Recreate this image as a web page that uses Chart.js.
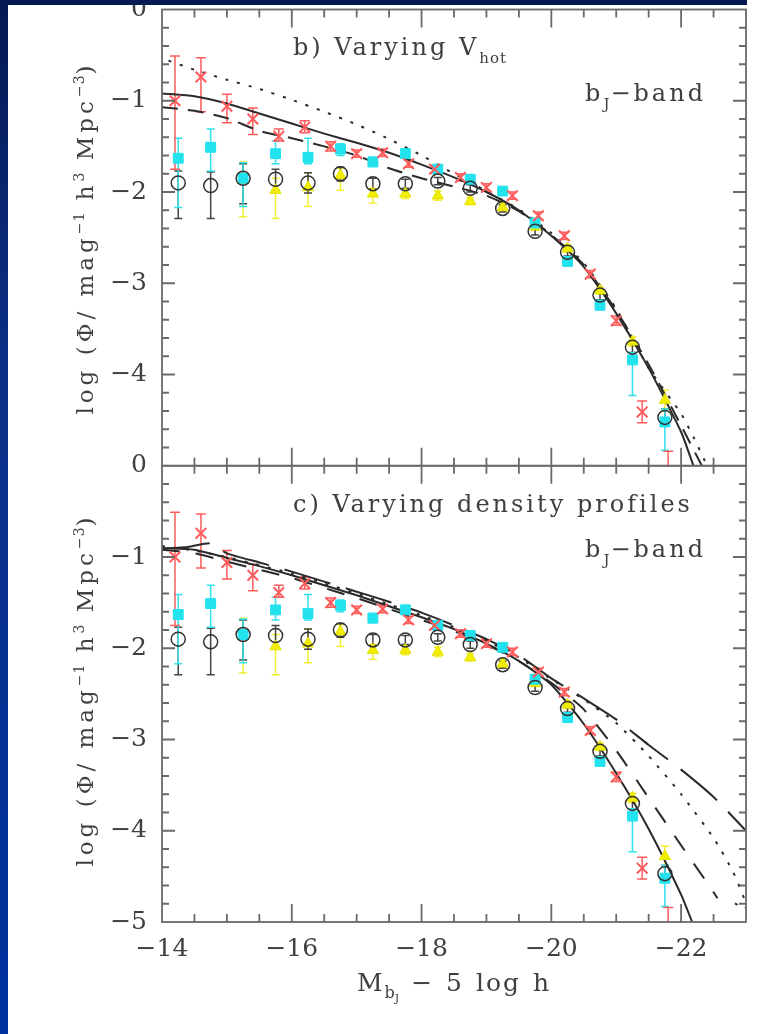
<!DOCTYPE html>
<html>
<head>
<meta charset="utf-8">
<script src="https://cdn.jsdelivr.net/npm/chart.js@4.4.1/dist/chart.umd.min.js"></script>
<style>
  html, body { margin: 0; padding: 0; }
  body { width: 757px; height: 1034px; position: relative; overflow: hidden;
    background: linear-gradient(to bottom, #061a52 0%, #0b2f86 35%, #0033a0 100%); }
  #paper { position: absolute; left: 8px; top: 5px; right: 0; bottom: 0; background: #fff; }
  #cornerTR { position: absolute; left: 747px; top: 0; width: 10px; height: 5px; background: #fff; }
  #bandTop { position: absolute; left: 0; top: 0; width: 747px; height: 5px; background: #061a52; z-index: 3; }
  #chart { position: absolute; left: 0; top: 0; z-index: 1; }
  .txt { position: absolute; z-index: 2; font-family: 'DejaVu Serif'; font-size: 24px; line-height: 24px;
    letter-spacing: 3px; color: #404040; white-space: nowrap; }
  .sub { font-size: 15px; position: relative; top: 8px; letter-spacing: 1px; }
  .ytitle { position: absolute; z-index: 2; left: 86px; font-family: 'DejaVu Serif'; font-size: 23px;
    line-height: 30px; letter-spacing: 4px; color: #404040; white-space: nowrap;
    transform: translate(-50%, -50%) rotate(-90deg); }
  .sup { font-size: 14px; position: relative; top: -9px; letter-spacing: 1px; }
  .xtitle { position: absolute; z-index: 2; left: 357px; top: 970px; font-family: 'DejaVu Serif'; font-size: 25px;
    line-height: 25px; letter-spacing: 2px; word-spacing: 2px; color: #404040; white-space: nowrap; }
  .xsub { font-size: 16px; position: relative; top: 7px; letter-spacing: 0; }
  .xsubsub { font-size: 11px; position: relative; top: 4px; }
</style>
</head>
<body>
<div id="paper"></div>
<div id="cornerTR"></div>
<div id="bandTop"></div>
<canvas id="chart" width="757" height="1034"></canvas>

<div class="txt" style="left:293px; top:35px;">b) Varying V<span class="sub">hot</span></div>
<div class="txt" style="left:585px; top:81px;">b<span class="sub">J</span>−band</div>
<div class="txt" style="left:293px; top:492px;">c) Varying density profiles</div>
<div class="txt" style="left:585px; top:537px;">b<span class="sub">J</span>−band</div>
<div class="ytitle" style="top:238px;">log (Φ/ mag<span class="sup">−1</span> h<span class="sup">3</span> Mpc<span class="sup">−3</span>)</div>
<div class="ytitle" style="top:690px;">log (Φ/ mag<span class="sup">−1</span> h<span class="sup">3</span> Mpc<span class="sup">−3</span>)</div>
<div class="xtitle">M<span class="xsub">b<span class="xsubsub">J</span></span> − 5 log h</div>

<script>
// tick labels
const xTickVals = [-14, -16, -18, -20, -22];
const yTopTickVals = [0, -1, -2, -3, -4];
const yBotTickVals = [0, -1, -2, -3, -4, -5];

// red crosses
const magRed = [-14.2, -14.6, -15.0, -15.4, -15.8, -16.2, -16.6, -17.0, -17.4, -17.8,
                -18.2, -18.6, -19.0, -19.4, -19.8, -20.2, -20.6, -21.0, -21.4, -21.8];
const phiRed = [-1.00, -0.74, -1.06, -1.20, -1.39, -1.29, -1.50, -1.58, -1.57, -1.69,
                -1.75, -1.84, -1.95, -2.04, -2.26, -2.48, -2.90, -3.41, -4.41, -5.30];
const redHi  = [-0.51, -0.53, -0.93, -1.08, -1.31, -1.22, -1.45, -1.54, -1.53, -1.65,
                -1.71, -1.80, -1.91, -2.00, -2.22, -2.44, -2.86, -3.36, -4.29, -4.84];
const redLo  = [-1.75, -1.12, -1.24, -1.37, -1.44, -1.35, -1.55, -1.62, -1.61, -1.73,
                -1.79, -1.88, -1.99, -2.08, -2.30, -2.52, -2.94, -3.46, -4.53, -5.80];

// binned points (cyan squares, open circles)
const magBin = [-14.25, -14.75, -15.25, -15.75, -16.25, -16.75, -17.25, -17.75,
                -18.25, -18.75, -19.25, -19.75, -20.25, -20.75, -21.25, -21.75];
const phiCyan = [-1.63, -1.51, -1.85, -1.58, -1.62, -1.53, -1.67, -1.58,
                 -1.75, -1.86, -1.99, -2.34, -2.76, -3.24, -3.84, -4.52];
const cyanHi  = [-1.41, -1.31, -1.68, -1.44, -1.41, -1.47, -1.62, -1.53,
                 -1.71, -1.82, -1.95, -2.30, -2.71, -3.19, -3.76, -4.38];
const cyanLo  = [-2.17, -1.77, -2.16, -1.69, -1.69, -1.60, -1.72, -1.63,
                 -1.79, -1.90, -2.03, -2.38, -2.81, -3.29, -4.23, -4.83];
const phiCirc = [-1.90, -1.93, -1.85, -1.86, -1.90, -1.80, -1.91, -1.91,
                 -1.88, -1.96, -2.18, -2.43, -2.66, -3.13, -3.70, -4.47];
const circHi  = [-1.77, -1.78, -1.69, -1.75, -1.79, -1.73, -1.85, -1.86,
                 -1.84, -1.92, -2.14, -2.39, -2.62, -3.08, -3.64, -4.38];
const circLo  = [-2.29, -2.29, -2.13, -1.98, -2.01, -1.88, -1.97, -1.96,
                 -1.92, -2.00, -2.22, -2.47, -2.70, -3.18, -3.76, -4.56];

// yellow triangles
const magYel = [-15.25, -15.75, -16.25, -16.75, -17.25, -17.75, -18.25,
                -18.75, -19.25, -19.75, -20.25, -20.75, -21.25, -21.75];
const phiYel = [-1.87, -1.98, -1.95, -1.82, -2.02, -2.02, -2.04,
                -2.10, -2.17, -2.38, -2.62, -3.08, -3.64, -4.28];
const yelHi  = [-1.67, -1.85, -1.79, -1.74, -1.96, -1.97, -1.99,
                -2.06, -2.13, -2.34, -2.58, -3.04, -3.59, -4.17];
const yelLo  = [-2.27, -2.29, -2.16, -1.98, -2.12, -2.07, -2.09,
                -2.14, -2.21, -2.42, -2.66, -3.12, -3.69, -4.40];

// panel b model curves
const magSolidB = [-14.0, -14.5, -15.0, -15.5, -16.0, -16.5, -17.0, -17.5, -18.0,
                   -18.5, -19.0, -19.5, -20.0, -20.5, -21.0, -21.5, -22.0, -22.19];
const phiSolidB = [-0.92, -0.95, -1.03, -1.14, -1.25, -1.36, -1.46, -1.57, -1.70,
                   -1.84, -2.00, -2.20, -2.48, -2.82, -3.33, -3.93, -4.63, -5.00];
const magDashB = [-14.0, -14.5, -15.0, -15.5, -16.0, -16.5, -17.0, -17.5, -18.0,
                  -18.5, -19.0, -19.5, -20.0, -20.5, -21.0, -21.5, -22.0, -22.32];
const phiDashB = [-1.07, -1.11, -1.19, -1.33, -1.41, -1.50, -1.60, -1.74, -1.85,
                  -1.94, -2.04, -2.21, -2.47, -2.80, -3.30, -3.89, -4.56, -5.00];
const magDotB = [-14.1, -14.5, -15.0, -15.5, -16.0, -16.5, -17.0, -17.5, -18.0, -18.5,
                 -19.0, -19.5, -20.0, -20.5, -21.0, -21.5, -22.0, -22.2, -22.4];
const phiDotB = [-0.56, -0.66, -0.77, -0.87, -0.99, -1.12, -1.26, -1.42, -1.60, -1.80,
                 -1.99, -2.19, -2.45, -2.78, -3.28, -3.93, -4.43, -4.70, -5.00];

// panel c model curves
const magSolidC = [-14.0, -14.5, -15.0, -15.5, -16.0, -16.5, -17.0, -17.5, -18.0,
                   -18.5, -19.0, -19.5, -20.0, -20.5, -21.0, -21.5, -22.0, -22.17];
const phiSolidC = [-0.90, -0.92, -1.01, -1.10, -1.20, -1.31, -1.42, -1.54, -1.66,
                   -1.79, -1.95, -2.14, -2.40, -2.83, -3.37, -3.98, -4.70, -5.00];
const magShortC = [-14.0, -14.5, -15.0, -15.5, -16.0, -16.5, -17.0, -17.5, -18.0, -18.5,
                   -19.0, -19.5, -20.0, -20.5, -21.0, -21.5, -22.0, -22.45, -22.56];
const phiShortC = [-0.92, -0.96, -1.05, -1.14, -1.23, -1.34, -1.45, -1.57, -1.69, -1.81,
                   -1.96, -2.14, -2.38, -2.67, -3.12, -3.64, -4.16, -4.62, -4.74];
const magDotC = [-14.0, -14.5, -15.0, -15.5, -16.0, -16.5, -17.0, -17.5, -18.0, -18.5, -19.0,
                 -19.5, -20.0, -20.5, -21.0, -21.5, -22.0, -22.5, -22.8, -22.98, -23.0, -22.75];
const phiDotC = [-0.88, -0.93, -1.00, -1.09, -1.18, -1.29, -1.40, -1.52, -1.64, -1.77, -1.92,
                 -2.10, -2.34, -2.56, -2.82, -3.18, -3.60, -4.08, -4.45, -4.76, -4.86, -4.76];
const magLongC = [-14.0, -14.4, -14.75, -15.0, -15.5, -16.0, -16.5, -17.0, -17.5, -18.0,
                  -18.5, -19.0, -19.5, -20.0, -20.5, -21.0, -21.5, -22.0, -22.5, -23.0];
const phiLongC = [-0.91, -0.89, -0.85, -0.96, -1.06, -1.16, -1.27, -1.38, -1.49, -1.61,
                  -1.75, -1.90, -2.08, -2.33, -2.55, -2.78, -3.06, -3.33, -3.63, -4.00];

const textColor = '#404040';
const tickFont = { family: 'DejaVu Serif', size: 25 };
const lineColor = '#2a2a2a';
const panels = ['yTop', 'yBot'];

function pts(xs, ys) {
    return xs.map((x, i) => ({ x: x, y: ys[i] }));
}

function fmt(v) {
    return v === 0 ? '0' : '\u2212' + Math.abs(v);
}

function curve(xs, ys, axis, dash) {
    return {
        data: pts(xs, ys), yAxisID: axis, showLine: true, pointRadius: 0,
        borderColor: lineColor, borderWidth: 2, borderDash: dash, tension: 0.2, order: 10
    };
}

// error bars, drawn under the markers
const errSeries = [
    { mag: magYel, hi: yelHi, lo: yelLo, color: '#f2ee30', cap: 4 },
    { mag: magBin, hi: circHi, lo: circLo, color: '#444', cap: 4 },
    { mag: magBin, hi: cyanHi, lo: cyanLo, color: '#30e2ee', cap: 4 },
    { mag: magRed, hi: redHi, lo: redLo, color: '#ff5c5c', cap: 5 }
];

const errorBars = {
    id: 'errorBars',
    beforeDatasetsDraw(chart) {
        const c = chart.ctx, xs = chart.scales.x, a = chart.chartArea;
        panels.forEach(id => {
            const ys = chart.scales[id];
            c.save();
            c.beginPath();
            c.rect(a.left, ys.top, a.right - a.left, ys.bottom - ys.top);
            c.clip();
            errSeries.forEach(s => {
                c.strokeStyle = s.color;
                c.lineWidth = 1.5;
                c.beginPath();
                s.mag.forEach((m, i) => {
                    const px = xs.getPixelForValue(m);
                    const hi = ys.getPixelForValue(s.hi[i]);
                    const lo = ys.getPixelForValue(s.lo[i]);
                    c.moveTo(px, hi); c.lineTo(px, lo);
                    c.moveTo(px - s.cap, hi); c.lineTo(px + s.cap, hi);
                    c.moveTo(px - s.cap, lo); c.lineTo(px + s.cap, lo);
                });
                c.stroke();
            });
            c.restore();
        });
    }
};

// boxed panels with inward ticks on all sides
const frameTicks = {
    id: 'frameTicks',
    afterDatasetsDraw(chart) {
        const c = chart.ctx, xs = chart.scales.x, a = chart.chartArea;
        c.save();
        c.strokeStyle = '#6a6a6a';
        c.lineWidth = 1.8;
        panels.forEach(id => {
            const ys = chart.scales[id];
            c.strokeRect(a.left, ys.top, a.right - a.left, ys.bottom - ys.top);
            c.beginPath();
            for (let k = 1; k < 18; k++) {
                const v = -14 - k * 0.5;
                const len = (k % 4 === 0) ? 18 : 8;
                const px = xs.getPixelForValue(v);
                c.moveTo(px, ys.bottom); c.lineTo(px, ys.bottom - len);
                c.moveTo(px, ys.top); c.lineTo(px, ys.top + len);
            }
            for (let k = 1; k < 25; k++) {
                const v = -k * 0.2;
                const len = (k % 5 === 0) ? 13 : 7;
                const py = ys.getPixelForValue(v);
                c.moveTo(a.left, py); c.lineTo(a.left + len, py);
                c.moveTo(a.right, py); c.lineTo(a.right - len, py);
            }
            c.stroke();
        });
        c.restore();
    }
};

const datasets = [];
panels.forEach(id => {
    datasets.push({
        data: pts(magBin, phiCirc), yAxisID: id, pointStyle: 'circle', pointRadius: 7,
        borderColor: '#333', backgroundColor: 'rgba(0,0,0,0)', borderWidth: 1.5, order: 1
    });
    datasets.push({
        data: pts(magRed, phiRed), yAxisID: id, pointStyle: 'crossRot',
        pointRadius: ctx => (ctx.raw && ctx.raw.y < -5 ? 0 : 7.5),
        borderColor: '#ff5c5c', borderWidth: 2, order: 2
    });
    datasets.push({
        data: pts(magBin, phiCyan), yAxisID: id, pointStyle: 'rect', pointRadius: 7,
        borderColor: '#22e2ee', backgroundColor: '#22e2ee', borderWidth: 1, order: 3
    });
    datasets.push({
        data: pts(magYel, phiYel), yAxisID: id, pointStyle: 'triangle', pointRadius: 6.5,
        borderColor: '#e6e200', backgroundColor: '#f2ee00', borderWidth: 1, order: 4
    });
});
datasets.push(curve(magSolidB, phiSolidB, 'yTop', []));
datasets.push(curve(magDashB, phiDashB, 'yTop', [16, 10]));
datasets.push(curve(magDotB, phiDotB, 'yTop', [3, 9]));
datasets.push(curve(magSolidC, phiSolidC, 'yBot', []));
datasets.push(curve(magShortC, phiShortC, 'yBot', [18, 16]));
datasets.push(curve(magDotC, phiDotC, 'yBot', [3, 9]));
datasets.push(curve(magLongC, phiLongC, 'yBot', [48, 16]));

function yScale(ticksArr, weight) {
    return {
        type: 'linear', position: 'left', stack: 'panels', stackWeight: 1, weight: weight,
        min: -5, max: 0,
        grid: { display: false, drawTicks: false, tickLength: 0 },
        border: { display: false },
        afterBuildTicks: s => { s.ticks = ticksArr.map(v => ({ value: v })); },
        afterFit: s => { s.width = 162; s.paddingTop = 0; s.paddingBottom = 0; },
        ticks: { font: tickFont, color: textColor, padding: 15, callback: fmt }
    };
}

new Chart(document.getElementById('chart').getContext('2d'), {
    type: 'scatter',
    data: { datasets: datasets },
    options: {
        responsive: false,
        animation: false,
        events: [],
        layout: { padding: { left: 0, top: 8, right: 11, bottom: 0 } },
        plugins: { legend: { display: false }, tooltip: { enabled: false } },
        scales: {
            x: {
                type: 'linear', position: 'bottom', min: -23, max: -14, reverse: true,
                grid: { display: false, drawTicks: false, tickLength: 0 },
                border: { display: false },
                afterBuildTicks: s => { s.ticks = xTickVals.map(v => ({ value: v })); },
                afterFit: s => { s.height = 112; s.paddingLeft = 0; s.paddingRight = 0; },
                ticks: { font: tickFont, color: textColor, padding: 12, maxRotation: 0, autoSkip: false, callback: fmt }
            },
            yTop: yScale(yTopTickVals, 2),
            yBot: yScale(yBotTickVals, 1)
        }
    },
    plugins: [errorBars, frameTicks]
});
</script>
</body>
</html>
